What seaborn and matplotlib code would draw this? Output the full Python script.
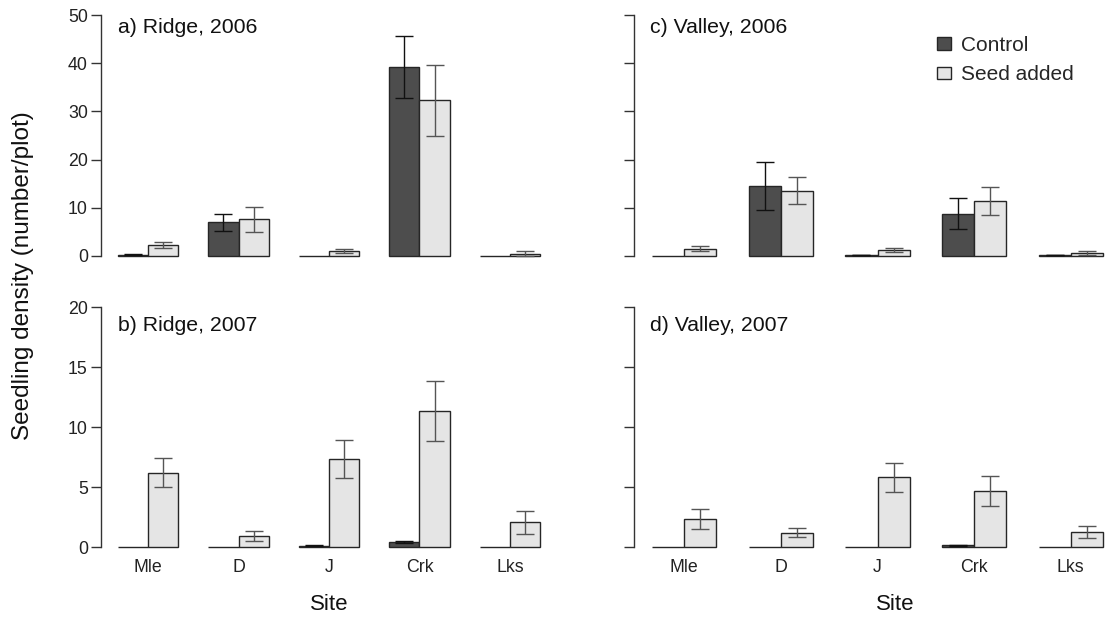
import numpy as np
import pandas as pd
import matplotlib
matplotlib.use("Agg")
import matplotlib.pyplot as plt
import seaborn as sns
from matplotlib.patches import Patch

# ---------------- data ----------------
sites = ["Mle", "D", "J", "Crk", "Lks"]
treatments = ["Control", "Seed added"]

ridge06_control = [0.3, 7.0, 0.0, 39.2, 0.0]
ridge06_control_se = [0.1, 1.8, 0.0, 6.5, 0.0]
ridge06_seed = [2.3, 7.6, 1.05, 32.3, 0.5]
ridge06_seed_se = [0.6, 2.6, 0.4, 7.3, 0.55]

valley06_control = [0.0, 14.5, 0.2, 8.8, 0.2]
valley06_control_se = [0.0, 4.9, 0.05, 3.2, 0.05]
valley06_seed = [1.5, 13.5, 1.25, 11.4, 0.7]
valley06_seed_se = [0.55, 2.8, 0.5, 2.9, 0.4]

ridge07_control = [0.0, 0.0, 0.1, 0.42, 0.0]
ridge07_control_se = [0.0, 0.0, 0.03, 0.1, 0.0]
ridge07_seed = [6.2, 0.92, 7.33, 11.36, 2.05]
ridge07_seed_se = [1.22, 0.42, 1.55, 2.5, 0.95]

valley07_control = [0.0, 0.0, 0.0, 0.14, 0.0]
valley07_control_se = [0.0, 0.0, 0.0, 0.04, 0.0]
valley07_seed = [2.36, 1.2, 5.8, 4.65, 1.25]
valley07_seed_se = [0.83, 0.38, 1.22, 1.25, 0.46]

panel_titles = ["a) Ridge, 2006", "c) Valley, 2006", "b) Ridge, 2007", "d) Valley, 2007"]
ymax_top = 50
ymax_bottom = 20
yticks_top = [0, 10, 20, 30, 40, 50]
yticks_bottom = [0, 5, 10, 15, 20]

colors = {"Control": "#4d4d4d", "Seed added": "#e5e5e5"}
err_colors = {"Control": "#111111", "Seed added": "#555555"}

# ---------------- figure ----------------
sns.set_style("white")
plt.rcParams["font.family"] = ["Liberation Sans", "DejaVu Sans"]

W, H = 1105, 617
fig = plt.figure(figsize=(W / 100, H / 100), dpi=100)
fig.patch.set_facecolor("white")

def axpos(x0, x1, y0, y1):
    return [x0 / W, 1 - y1 / H, (x1 - x0) / W, (y1 - y0) / H]

panels = [
    dict(pos=axpos(101, 557, 5.4, 265.6), c=ridge06_control, cse=ridge06_control_se,
         s=ridge06_seed, sse=ridge06_seed_se, ymax=ymax_top, yticks=yticks_top,
         left=True, bottom=False, title=panel_titles[0], tpos=(118, 33)),
    dict(pos=axpos(634, 1121, 5.4, 265.6), c=valley06_control, cse=valley06_control_se,
         s=valley06_seed, sse=valley06_seed_se, ymax=ymax_top, yticks=yticks_top,
         left=False, bottom=False, title=panel_titles[1], tpos=(650, 33)),
    dict(pos=axpos(101, 557, 297.4, 556.6), c=ridge07_control, cse=ridge07_control_se,
         s=ridge07_seed, sse=ridge07_seed_se, ymax=ymax_bottom, yticks=yticks_bottom,
         left=True, bottom=True, title=panel_titles[2], tpos=(118, 331)),
    dict(pos=axpos(634, 1121, 297.4, 556.6), c=valley07_control, cse=valley07_control_se,
         s=valley07_seed, sse=valley07_seed_se, ymax=ymax_bottom, yticks=yticks_bottom,
         left=False, bottom=True, title=panel_titles[3], tpos=(650, 331)),
]

for p in panels:
    ax = fig.add_axes(p["pos"])
    df = pd.DataFrame({
        "Site": sites + sites,
        "Treatment": ["Control"] * len(sites) + ["Seed added"] * len(sites),
        "density": list(p["c"]) + list(p["s"]),
        "se": list(p["cse"]) + list(p["sse"]),
    })
    sns.barplot(data=df, x="Site", y="density", hue="Treatment", order=sites,
                hue_order=treatments, palette=colors, saturation=1, width=2 / 3,
                gap=0, edgecolor="#262626", linewidth=1.0, errorbar=None,
                legend=False, ax=ax)
    # error bars at the positions of seaborn's bars
    for patch in ax.patches:
        cx = patch.get_x() + patch.get_width() / 2
        idx = int(round(cx))
        trt = "Control" if cx < idx else "Seed added"
        row = df[(df["Site"] == sites[idx]) & (df["Treatment"] == trt)].iloc[0]
        if row["se"] > 0:
            ax.errorbar(cx, row["density"], yerr=row["se"], fmt="none",
                        ecolor=err_colors[trt], elinewidth=1.0, capsize=6.8,
                        capthick=1.0, zorder=5)
    ymax = p["ymax"]
    ax.set_xlim(-0.52, 4.52)
    ax.set_ylim(-0.04 * ymax, 1.04 * ymax)
    ax.set_yticks(p["yticks"])
    for sp in ["top", "right", "bottom"]:
        ax.spines[sp].set_visible(False)
    ax.spines["left"].set_bounds(0, ymax)
    ax.spines["left"].set_color("#333333")
    ax.spines["left"].set_linewidth(1.0)
    ax.tick_params(axis="y", direction="out", length=7, width=1.0, color="#333333",
                   labelsize=12.8, labelcolor="#222222", pad=2.5, labelleft=p["left"], left=True)
    ax.tick_params(axis="x", length=0, labelsize=12.8, labelcolor="#222222", pad=1.5,
                   labelbottom=p["bottom"])
    ax.set_xlabel("")
    ax.set_ylabel("")
    ax.set_facecolor("none")
    fig.text(p["tpos"][0] / W, 1 - p["tpos"][1] / H, p["title"], ha="left", va="baseline",
             fontsize=15.3, color="#111111")

# legend in panel c
handles = [Patch(facecolor=colors[t], edgecolor="#262626", linewidth=1.0) for t in treatments]
fig.legend(handles, treatments, loc="upper left", bbox_to_anchor=(937 / W, 1 - 36 / H),
           frameon=False, fontsize=15, handlelength=0.65, handleheight=0.53,
           handletextpad=0.48, labelspacing=0.5, borderpad=0, borderaxespad=0)

# axis labels
fig.text(329 / W, 1 - 605 / H, "Site", ha="center", va="center", fontsize=16, color="#111111")
fig.text(895 / W, 1 - 605 / H, "Site", ha="center", va="center", fontsize=16, color="#111111")
fig.text(23 / W, 1 - 276 / H, "Seedling density (number/plot)", ha="center", va="center",
         rotation=90, fontsize=17.5, color="#111111")

fig.savefig("out.png", dpi=100, facecolor="white")
